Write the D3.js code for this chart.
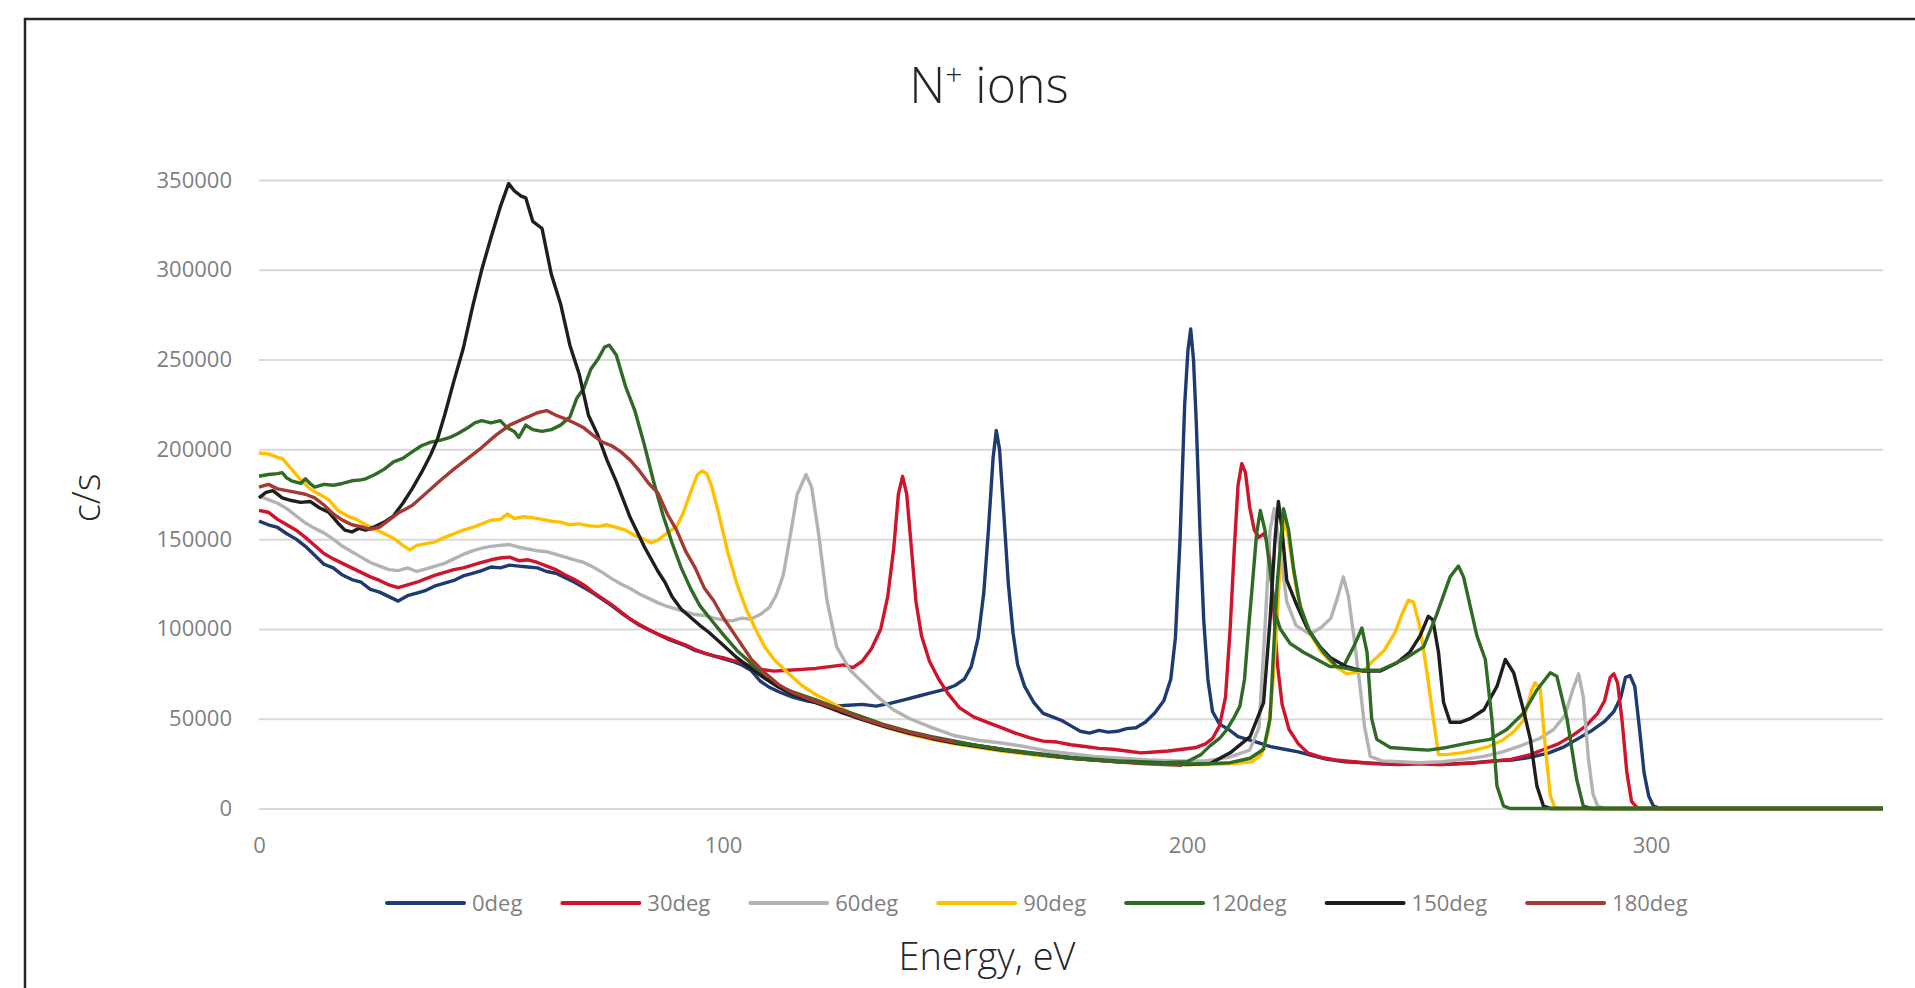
<!DOCTYPE html>
<html>
<head>
<meta charset="utf-8">
<script src="https://cdn.jsdelivr.net/npm/d3@7"></script>
<style>
  html, body { margin: 0; padding: 0; background: #fff; overflow: hidden; }
  text { font-family: "Open Sans", "Noto Sans", sans-serif; }
</style>
</head>
<body>
<div id="viz"></div>
<script>
const width = 1915;
const height = 988;
const margins = { left: 259, right: 32, top: 180, bottom: 179.5 };
const visWidth = width - margins.left - margins.right;
const visHeight = height - margins.top - margins.bottom;

// series: [energy eV, counts per second]
const deg0 = [[0,160000],[2,158000],[4,156500],[6,153000],[8,150000],[10,146000],[12,141000],[14,136000],[16,134000],[18,130000],[20,127500],[22,126000],[24,122000],[26,120500],[28,118000],[30,115500],[32,118500],[34,120000],[36,121500],[38,124000],[40,125500],[42,127000],[44,129500],[46,131000],[48,132500],[50,134500],[52,134000],[54,135500],[56,135000],[58,134500],[60,134000],[62,132000],[64,131000],[66,128500],[68,126000],[70,123000],[72,120000],[74,116500],[76,113000],[78,109000],[80,105500],[82,102000],[84,99500],[86,97000],[88,94500],[90,92500],[92,90500],[94,88000],[96,86500],[98,85000],[100,83500],[102,82000],[104,80000],[106,77000],[108,71000],[110,67500],[112,65000],[115,62000],[118,60000],[121,58500],[124,57000],[127,57500],[130,58000],[133,57000],[136,58500],[139,60500],[142,62500],[145,64500],[148,66500],[150,68500],[152,72000],[153.5,79000],[155,95000],[156.2,120000],[157.2,155000],[158.2,195000],[158.9,210500],[159.6,200000],[160.5,165000],[161.5,125000],[162.5,98000],[163.5,80000],[165,68000],[167,59000],[169,53000],[171,51000],[173,49000],[175,46000],[177,43000],[179,42000],[181,43500],[183,42500],[185,43000],[187,44500],[189,45000],[191,48000],[193,53000],[195,60000],[196.5,72000],[197.5,95000],[198.5,150000],[199.5,225000],[200.2,255000],[200.8,267000],[201.4,250000],[202,215000],[202.8,155000],[203.6,105000],[204.5,72000],[205.5,54000],[207,47000],[209,44000],[211,40000],[213,38500],[215,37000],[218,34500],[221,33000],[224,31500],[227,29500],[230,27500],[234,26000],[238,25500],[242,25000],[246,24500],[250,25000],[254,24500],[258,25000],[262,25500],[266,26500],[270,27000],[274,28500],[278,31000],[281,34000],[284,38500],[287,43000],[290,48500],[292,54000],[293.5,62000],[294.5,73000],[295.5,74000],[296.5,68000],[297.5,45000],[298.5,20000],[299.5,7000],[300.5,1500],[302,0],[350,0]];

const deg30 = [[0,166000],[2,165000],[4,161000],[6,158000],[8,155000],[10,151000],[12,146500],[14,142000],[16,139000],[18,136500],[20,134000],[22,131500],[24,129000],[26,127000],[28,124500],[30,123000],[32,124500],[34,126000],[36,128000],[38,130000],[40,131500],[42,133000],[44,134000],[46,135500],[48,137000],[50,138500],[52,139500],[54,140000],[56,138000],[58,138500],[60,137000],[62,135000],[64,133000],[66,130000],[68,127500],[70,124500],[72,120500],[74,117000],[76,113500],[78,109500],[80,105500],[82,102500],[84,99500],[86,97000],[88,95000],[90,93000],[92,91000],[94,88500],[96,86500],[98,85000],[100,84000],[102,82500],[104,81500],[106,79000],[108,77500],[111,76500],[114,77000],[117,77500],[120,78000],[123,79000],[126,80000],[128,78500],[130,82000],[132,89000],[134,100000],[135.5,118000],[136.8,145000],[137.8,175000],[138.7,185000],[139.6,175000],[140.6,145000],[141.6,115000],[142.8,96000],[144.5,82000],[146.5,72000],[148.5,64000],[151,56000],[154,51000],[157,48000],[160,45000],[163,42000],[166,39500],[169,37500],[172,37000],[175,35500],[178,34500],[181,33500],[184,33000],[187,32000],[190,31000],[193,31500],[196,32000],[199,33000],[202,34000],[204,36000],[205.5,39000],[207,46000],[208.3,62000],[209.3,100000],[210.2,145000],[211,180000],[211.8,192000],[212.6,187000],[213.5,168000],[214.5,155000],[215.5,151000],[216.5,153000],[217.5,148000],[218.5,118000],[219.5,80000],[220.5,58000],[222,44000],[224,36000],[226,31000],[229,28500],[232,27000],[236,26000],[240,25000],[245,24500],[250,25000],[255,24500],[260,25000],[265,26000],[270,27500],[274,30000],[277,33000],[280,36000],[283,40500],[286,46000],[288.5,53000],[290,60000],[291.2,73000],[292,75000],[292.8,70000],[293.8,48000],[294.8,20000],[295.8,4000],[297,500],[298,0],[350,0]];

const deg60 = [[0,174000],[2,172000],[4,170000],[6,167000],[8,163000],[10,159000],[12,156000],[14,153500],[16,150000],[18,146000],[20,143000],[22,140000],[24,137000],[26,135000],[28,133000],[30,132500],[32,134000],[34,132000],[36,133500],[38,135000],[40,136500],[42,139000],[44,141500],[46,143500],[48,145000],[50,146000],[52,146500],[54,147000],[56,145500],[58,144500],[60,143500],[62,143000],[64,141500],[66,140000],[68,138500],[70,137000],[72,134500],[74,131500],[76,128000],[78,125000],[80,122500],[82,119500],[84,117000],[86,114500],[88,112500],[90,111000],[92,109500],[94,108000],[96,107500],[98,106000],[100,105000],[102,104500],[104,106000],[106,105500],[108,108000],[110,112000],[111.5,119000],[113,130000],[114.5,152000],[116,175000],[117.9,186000],[119.1,179000],[120.6,153000],[122.4,116000],[124.5,90000],[127.4,77000],[129.6,71500],[133,63000],[136.7,55000],[140.3,50000],[145,45000],[150,40500],[155,38000],[160,36500],[165,34500],[170,32000],[175,30500],[180,29000],[186,28000],[192,27000],[198,26500],[204,26500],[209,28500],[213.5,32500],[215.5,45000],[216.8,100000],[217.9,155000],[218.8,167000],[220,145000],[221.5,115000],[223.5,102000],[226.5,97000],[229,101000],[231,106000],[232.5,118000],[233.7,129000],[234.8,118000],[236,95000],[237.2,70000],[238.3,45000],[239.5,29000],[242,26500],[246,26000],[250,25500],[255,26000],[260,27500],[264,29000],[268,31500],[272,35000],[276,39000],[279,44000],[281.5,52000],[283,65000],[284.4,75000],[285.4,62000],[286.5,28000],[287.5,8000],[288.5,1500],[290,0],[350,0]];

const deg90 = [[0,198000],[2,197500],[4,195500],[5,195000],[7,189000],[9,183000],[11,178000],[13,175000],[15,172000],[17,166000],[19,163000],[21,161000],[23,158000],[25,155500],[27,153000],[29,150500],[31,146500],[32.5,144000],[34,146500],[36,147500],[38,148500],[40,151000],[42,153000],[44,155000],[46,156500],[48,158500],[50,160500],[52,161000],[53.5,164000],[55,161500],[57,162500],[59,162000],[61,161000],[63,160000],[65,159500],[67,158000],[69,158500],[71,157500],[73,157000],[75,158000],[77,156500],[79,155000],[81,152000],[83,150000],[84.5,148000],[86,149500],[88,153500],[90,157000],[91.5,165000],[93,176000],[94.5,186000],[95.5,188000],[96.5,186500],[97.5,180000],[99,165000],[101,143000],[103,125000],[105,111000],[107,100000],[109,90000],[111,83000],[114,75500],[117,68500],[120,63500],[124,58000],[128,52500],[132,48000],[136,44500],[140,41500],[145,38500],[150,36000],[155,34000],[160,32000],[165,30500],[170,29000],[175,28000],[180,27000],[185,26000],[190,25500],[195,25000],[200,24500],[205,24500],[210,25000],[214,26000],[216,30000],[217.5,42000],[218.5,70000],[219.5,110000],[220.4,150000],[221.2,161000],[222.2,145000],[223.7,120000],[225.8,101000],[228.7,88000],[231.5,80000],[234.4,75000],[238,76500],[240,82000],[242.5,88000],[244.8,98000],[246.3,108000],[247.7,116000],[248.8,115000],[250.2,101000],[251.6,78000],[253.1,50000],[254.2,30000],[256,30000],[259,31000],[262,32500],[265,34500],[268,38000],[270.5,43000],[272.5,49000],[274.3,66000],[275,70000],[276.1,67000],[277.2,35000],[278.3,7000],[279.3,500],[281,0],[350,0]];

const deg120 = [[0,185000],[2,186000],[4,186500],[5,187000],[6,184000],[7,182500],[9,181000],[10,183600],[11,181000],[12,179000],[14,180500],[16,180000],[18,181000],[20,182500],[22,183000],[23,183600],[25,186000],[27,189000],[29,193000],[31,195000],[33,198600],[35,202000],[37,204000],[39,205000],[41,206500],[43,209000],[45,212000],[46.5,214700],[48,216000],[50,214700],[52,216000],[53.5,212000],[55,210000],[56,206600],[57.5,213500],[59,211000],[61,210000],[63,211000],[65,213500],[67,218000],[68.5,228500],[70,234000],[71.5,244600],[73,250000],[74.5,257000],[75.5,258000],[77,252600],[79,235000],[81,221600],[83,203000],[85,182500],[87,164000],[89,148000],[91,134000],[93,122600],[95,113000],[97,106500],[100,97000],[103,88000],[106,81000],[109,73000],[112,68000],[115,65000],[120,60500],[125,55500],[130,51000],[135,46500],[140,43000],[145,40000],[150,37500],[155,35000],[160,33000],[165,31500],[170,30000],[175,28500],[180,27500],[185,26500],[190,26000],[195,25500],[200,26000],[203,30000],[205,35000],[207,39000],[208.6,44000],[210,50000],[211.4,57000],[212.4,72000],[213.2,98000],[214.1,125000],[215,153000],[215.8,166000],[216.8,155000],[217.9,133000],[219,109000],[220.1,100000],[222.2,92000],[225.1,87000],[228,83000],[230.9,79000],[233.7,79000],[235.9,90000],[237.7,100500],[238.8,87000],[239.8,50000],[240.9,38500],[243.8,34000],[248.8,33000],[252,32500],[256,34000],[261,36700],[265.3,38500],[268.9,44000],[272.5,53000],[275.4,66000],[278.3,75600],[279.7,73700],[281.9,50000],[284,16000],[285.4,1500],[287,0],[350,0]];

const deg150 = [[0,173000],[1.5,176000],[3,177000],[5,173000],[7,171500],[9,170500],[11,171000],[13,167500],[15,165000],[17,159000],[18.5,155000],[20,154000],[21.5,156000],[23,155000],[25,157000],[27,159500],[29,163000],[31,170000],[33,178000],[35,187000],[37,197000],[38.5,206000],[40,219000],[42,238000],[44,256000],[46,279000],[48,300000],[50,318000],[52,335000],[53.8,348000],[55,344000],[56.5,341000],[57.5,340000],[59,327000],[61,323000],[63,297500],[65,281000],[67,258000],[69,242000],[71,219000],[73,208000],[75,194000],[77,182000],[80,162000],[83,146000],[86,132000],[87.5,126000],[89,118000],[91,111000],[93,106500],[95,102000],[97,98000],[100,91000],[103,84000],[106,78000],[109,72500],[112,67500],[115,63500],[120,59000],[125,54000],[130,49500],[135,45500],[140,42000],[145,39000],[150,36500],[155,34500],[160,32500],[165,31000],[170,29500],[175,28000],[180,27000],[185,26000],[190,25500],[195,25000],[200,24500],[205,25000],[209.3,31000],[213.6,40000],[216.5,59000],[217.9,105000],[219,151000],[219.7,171000],[220.4,157000],[221.5,127000],[223.7,113000],[225.8,101000],[228.7,90000],[230.9,84000],[234.4,79000],[238,76500],[241.6,76500],[245.2,81000],[248,87000],[250.2,96000],[252,107000],[253,105000],[254.2,87000],[255.3,59000],[256.7,48000],[258.9,48000],[261,50000],[264,55000],[266.8,68000],[268.6,83000],[270.4,75600],[272.5,55000],[274,38500],[275.4,12600],[276.8,1500],[278.3,0],[350,0]];

const deg180 = [[0,179000],[2,180500],[4,178000],[6,177000],[8,176000],[10,175000],[12,173000],[14,169000],[16,164000],[18,160600],[20,158000],[22,157000],[24,155500],[26,156700],[28,160600],[30,164500],[33,168700],[36,175600],[39,182500],[42,189000],[45,195000],[48,201000],[51,207800],[54,213500],[57,217000],[60,220400],[62,221600],[64,219000],[66,217000],[68,214700],[70,212000],[72,207800],[74,204000],[76,202000],[78,198600],[80,194000],[82,188000],[84,181000],[86,175600],[88,164000],[90,155000],[92,143000],[94,134000],[96,122600],[98,115700],[100,106500],[103,95000],[106,83500],[109,75500],[112,69000],[115,64500],[120,59500],[125,55000],[130,50000],[135,46000],[140,42500],[145,39500],[150,37000],[155,35000],[160,33000],[165,31000],[170,29500],[175,28000],[180,27000],[185,26000],[190,25000],[195,24500],[199,24000]];

// second green trace in the picture, no legend entry
const greenTrace = [[150,37000],[160,33000],[170,29500],[180,27000],[190,25500],[200,24800],[205,25000],[209.3,25500],[213.6,28000],[216.5,33000],[217.9,50000],[219.4,124000],[220.8,167000],[221.9,155000],[223,133000],[224.4,112600],[226.5,98000],[229.4,87000],[232.3,79000],[236.6,77000],[241.6,77000],[246.7,83000],[251,90000],[253.8,108000],[256.7,129000],[258.5,135000],[259.6,129000],[262.5,96000],[264.3,83000],[265.7,50000],[266.8,12600],[268.2,1500],[269.6,0],[350,0]];

const seriesNames = ["0deg", "30deg", "60deg", "90deg", "120deg", "150deg", "180deg"];
const seriesData = [deg0, deg30, deg60, deg90, deg120, deg150, deg180];
const seriesColors = ["#1f3a70", "#d0142c", "#b3b3b3", "#ffc000", "#2f6b25", "#1e1e1e", "#a33a33"];

const xTicks = [0, 100, 200, 300];
const yTicks = [0, 50000, 100000, 150000, 200000, 250000, 300000, 350000];

const root = d3.select('#viz')
    .append("svg")
    .attr('width', width)
    .attr('height', height);

// outer chart frame (runs off the right and bottom of the page)
root.append("rect")
    .attr("x", 25)
    .attr("y", 19)
    .attr("width", 1960)
    .attr("height", 1000)
    .attr("fill", "none")
    .attr("stroke", "#262626")
    .attr("stroke-width", 2.5);

const svg = root.append("g")
    .attr("transform", `translate(${margins.left}, ${margins.top})`);

const xScale = d3.scaleLinear()
    .domain([0, 350])
    .range([0, visWidth]);

const yScale = d3.scaleLinear()
    .domain([0, 350000])
    .range([visHeight, 0]);

// y axis with gridlines
const yAxis = svg.append("g")
    .call(d3.axisLeft(yScale).tickValues(yTicks).tickSize(-visWidth).tickPadding(27).tickFormat(d3.format("d")));
yAxis.select(".domain").remove();
yAxis.selectAll("line").attr("stroke", "#d9d9d9").attr("stroke-width", 2);
yAxis.selectAll("text").attr("fill", "#7f7f7f").style("font-size", "22px");

// x axis, labels only
const xAxis = svg.append("g")
    .attr("transform", `translate(0, ${visHeight})`)
    .call(d3.axisBottom(xScale).tickValues(xTicks).tickSize(0).tickPadding(29));
xAxis.select(".domain").remove();
xAxis.selectAll("text").attr("fill", "#7f7f7f").style("font-size", "22px");

const line = d3.line()
    .x(d => xScale(d[0]))
    .y(d => yScale(d[1]));

const lines = svg.append("g");

seriesData.forEach((s, i) => {
    lines.append("path")
        .datum(s)
        .attr("fill", "none")
        .attr("stroke", seriesColors[i])
        .attr("stroke-width", 3.4)
        .attr("stroke-linejoin", "round")
        .attr("d", line);
});

lines.append("path")
    .datum(greenTrace)
    .attr("fill", "none")
    .attr("stroke", seriesColors[4])
    .attr("stroke-width", 3.4)
    .attr("stroke-linejoin", "round")
    .attr("d", line);

// title
root.append("text")
    .attr("x", 989)
    .attr("y", 103)
    .attr("text-anchor", "middle")
    .attr("fill", "#262626")
    .style("font-size", "50px")
    .style("font-weight", 300)
    .call(t => {
        t.append("tspan").text("N");
        t.append("tspan").attr("dy", -18).style("font-size", "30px").text("+");
        t.append("tspan").attr("dy", 18).text(" ions");
    });

// axis titles
root.append("text")
    .attr("transform", "translate(100, 498) rotate(-90)")
    .attr("text-anchor", "middle")
    .attr("fill", "#262626")
    .style("font-size", "38px")
    .style("font-weight", 300)
    .text("c/s");

root.append("text")
    .attr("x", 987)
    .attr("y", 970)
    .attr("text-anchor", "middle")
    .attr("fill", "#262626")
    .style("font-size", "38px")
    .style("font-weight", 300)
    .text("Energy, eV");

// legend
const legend = root.append("g").attr("transform", "translate(387, 903)");
let lx = 0;
seriesNames.forEach((name, i) => {
    const item = legend.append("g").attr("transform", `translate(${lx}, 0)`);
    item.append("line")
        .attr("x1", 0).attr("x2", 77)
        .attr("stroke", seriesColors[i])
        .attr("stroke-width", 4)
        .attr("stroke-linecap", "round");
    const label = item.append("text")
        .attr("x", 85)
        .attr("dy", "0.35em")
        .attr("fill", "#7f7f7f")
        .style("font-size", "22px")
        .text(name);
    lx += 85 + label.node().getComputedTextLength() + 40;
});
</script>
</body>
</html>
